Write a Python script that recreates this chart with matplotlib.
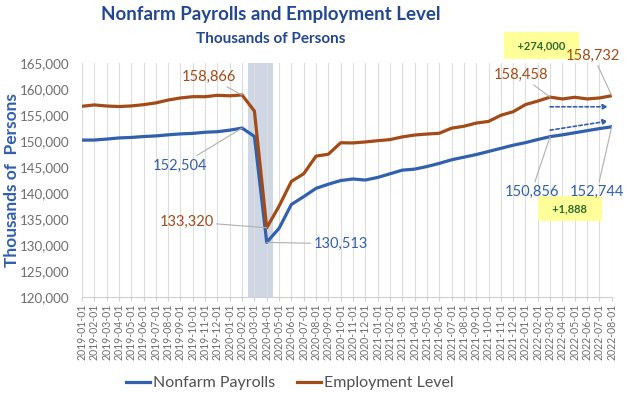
import matplotlib
matplotlib.use("Agg")
import matplotlib.pyplot as plt
from matplotlib.ticker import FuncFormatter
import pandas as pd

plt.rcParams['font.family'] = ['Lato', 'DejaVu Sans']

# monthly data, thousands of persons
months = pd.date_range("2019-01-01", "2022-08-01", freq="MS").strftime("%Y-%m-%d").tolist()

payrolls = [150180, 150200, 150380, 150600, 150700, 150870, 150990, 151200, 151380, 151480,
            151700, 151800, 152100, 152504, 150900, 130513, 133200, 137800, 139300, 140900,
            141700, 142400, 142700, 142500, 143000, 143700, 144400, 144600, 145100, 145700,
            146400, 146900, 147400, 148000, 148600, 149200, 149700, 150300, 150856, 151200,
            151600, 152000, 152400, 152744]

employment = [156694, 156949, 156748, 156645, 156758, 157003, 157346, 157895, 158298, 158544,
              158536, 158803, 158714, 158866, 155772, 133320, 137465, 142237, 143705, 147096,
              147474, 149670, 149640, 149830, 150070, 150280, 150800, 151160, 151350, 151500,
              152480, 152850, 153460, 153780, 154960, 155650, 157020, 157700, 158458, 158105,
              158426, 158111, 158290, 158732]

blue = "#3060AE"
brown = "#A24B16"
title_blue = "#24488F"
gray_txt = "#6E6E6E"

fig = plt.figure(figsize=(6.3, 3.97), dpi=100)
ax = fig.add_axes([0.130, 0.252, 0.841, 0.589])

x = list(range(len(months)))
ax.plot(x, payrolls, color=blue, lw=2.3, label="Nonfarm Payrolls", zorder=3)
ax.plot(x, employment, color=brown, lw=2.3, label="Employment Level", zorder=3)

# recession shading
ax.axvspan(13.5, 15.5, color="#C9D3E0", alpha=0.9, zorder=1, lw=0)

ax.set_xlim(0, len(months) - 1)
ax.set_ylim(120000, 165000)
ax.set_yticks(range(120000, 165001, 5000))
ax.yaxis.set_major_formatter(FuncFormatter(lambda v, p: f"{int(v):,}"))
ax.set_xticks(x)
ax.set_xticklabels(months, rotation=90, fontsize=7.6, color=gray_txt)
ax.tick_params(axis="y", labelsize=9.6, colors=gray_txt, length=0, pad=9)
ax.tick_params(axis="x", length=3, color="#D0D0D0", pad=2)
ax.grid(axis="x", color="#DDDDDD", lw=0.8, zorder=0)
for s in ["top", "right", "left"]:
    ax.spines[s].set_visible(False)
ax.spines["bottom"].set_color("#D0D0D0")

ax.set_ylabel("Thousands of  Persons", fontsize=12.5, fontweight="bold", color=blue, labelpad=0)

fig.text(0.43, 0.963, "Nonfarm Payrolls and Employment Level", ha="center", va="center",
         fontsize=13.5, fontweight="bold", color=title_blue)
fig.text(0.43, 0.902, "Thousands of Persons", ha="center", va="center",
         fontsize=11, fontweight="bold", color=title_blue)

# point labels with leader lines
def label(idx, series, text, xt, yt, color, ha="center"):
    ax.annotate(text, xy=(idx, series[idx]), xytext=(xt, yt), textcoords="data",
                fontsize=10.5, color=color, ha=ha, va="center",
                arrowprops=dict(arrowstyle="-", color="#B0B0B0", lw=0.8,
                                shrinkA=0, shrinkB=0), zorder=5, annotation_clip=False)

label(13, employment, "158,866", 10.3, 162300, brown)
label(13, payrolls, "152,504", 8.0, 145300, blue)
label(15, employment, "133,320", 8.5, 134500, brown)
label(15, payrolls, "130,513", 21.0, 130200, blue)
label(38, employment, "158,458", 35.6, 162700, brown)
label(43, employment, "158,732", 41.5, 166400, brown)
label(38, payrolls, "150,856", 36.5, 140300, blue)
label(43, payrolls, "152,744", 41.8, 140300, blue)

# change boxes
ax.text(37.3, 168400, "  +274,000  ", fontsize=8, fontweight="bold", color="#2E6B2E",
        ha="center", va="center", clip_on=False,
        bbox=dict(boxstyle="square,pad=0.75", fc="#FFFF99", ec="none"))
ax.text(39.6, 137000, "   +1,888   ", fontsize=8, fontweight="bold", color="#2E6B2E",
        ha="center", va="center",
        bbox=dict(boxstyle="square,pad=0.6", fc="#FFFF99", ec="none"))

# dashed arrows
ax.annotate("", xy=(42.7, 156600), xytext=(38, 156600),
            arrowprops=dict(arrowstyle="-|>", color=blue, lw=1.2, ls=(0, (2, 1.5)),
                            mutation_scale=7, shrinkA=0, shrinkB=0))
ax.annotate("", xy=(42.7, 153850), xytext=(38, 152100),
            arrowprops=dict(arrowstyle="-|>", color=blue, lw=1.2, ls=(0, (2, 1.5)),
                            mutation_scale=7, shrinkA=0, shrinkB=0))

leg = fig.legend(loc="center", bbox_to_anchor=(0.46, 0.035), ncol=2, frameon=False,
                 fontsize=11.5, handlelength=1.5, columnspacing=1.4, handletextpad=0.2)
for t in leg.get_texts():
    t.set_color("#505050")

fig.savefig("out.png", dpi=100)
